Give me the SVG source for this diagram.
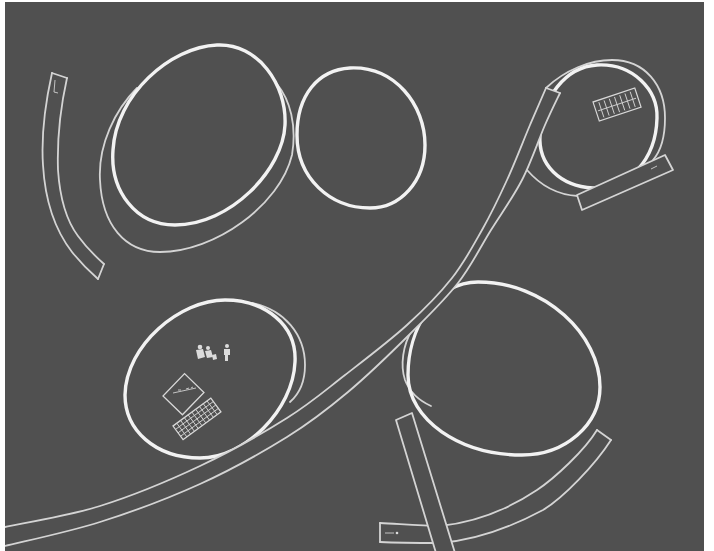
<svg xmlns="http://www.w3.org/2000/svg" width="714" height="551" viewBox="0 0 714 551">
  <defs>
    <style>
      .bold { fill: none; stroke: #f2f2f2; stroke-width: 3.4; stroke-linecap: round; stroke-linejoin: round; }
      .thin { fill: none; stroke: #d4d4d4; stroke-width: 1.8; stroke-linecap: round; stroke-linejoin: round; }
      .fine { fill: none; stroke: #d0d0d0; stroke-width: 0.9; }
      .mask { fill: #505050; stroke: none; }
      .ink  { fill: #dcdcdc; stroke: none; }
    </style>
    <clipPath id="board">
      <rect x="5" y="2" width="699" height="549"/>
    </clipPath>
  </defs>

  <rect width="714" height="551" fill="#ffffff"/>
  <rect x="5" y="2" width="699" height="549" fill="#505050"/>

  <g clip-path="url(#board)">
    <!-- top-left loose strip -->
    <g id="strip-left">
      <path class="thin" d="M52,73 C46,100 41,135 43,165 C45,200 55,230 72,252 C80,262 90,272 98,279"/>
      <path class="thin" d="M67,78 C61,105 57,140 58,170 C60,200 66,220 78,236 C86,247 95,256 104,264"/>
      <path class="thin" d="M52,73 L67,78"/>
      <path class="thin" d="M104,264 L98,279"/>
      <path class="fine" d="M55,80 L54,92 L58,93"/>
    </g>

    <!-- large ring, upper left -->
    <g id="ring-a">
      <path class="thin" d="M137,88 C115,110 98,145 100,180 C102,225 125,252 160,252 C215,252 280,205 292,155 C297,125 290,100 277,84"/>
      <path class="bold" d="M217,45 C258,43 287,85 285,125 C283,170 230,225 175,225 C135,225 110,190 113,150 C116,95 170,47 217,45 Z"/>
    </g>

    <!-- ring, upper middle -->
    <g id="ring-b">
      <path class="bold" d="M350,68 C395,66 425,105 425,145 C425,182 400,208 370,208 C330,208 297,178 297,135 C297,95 318,70 350,68 Z"/>
    </g>

    <!-- ring, lower right (passes under the long band) -->
    <g id="ring-d">
      <path class="thin" d="M412,330 C403,345 400,365 405,380 C410,393 420,401 431,406"/>
      <path class="bold" d="M478,282 C545,282 600,335 600,387 C600,425 565,455 522,455 C460,455 408,420 408,375 C408,330 435,282 478,282 Z"/>
    </g>

    <!-- ring, lower left, with laptop and figures -->
    <g id="ring-c">
      <path class="thin" d="M252,303 C285,310 305,335 305,365 C305,385 298,395 290,402"/>
      <path class="bold" d="M225,300 C265,300 297,325 295,362 C293,410 245,458 200,458 C155,458 125,430 125,395 C126,345 180,300 225,300 Z"/>
      <!-- little figures -->
      <g id="figures">
        <circle class="ink" cx="200" cy="347" r="2.3"/>
        <path class="ink" d="M196,350 L203,349 L205,357 L198,359 Z"/>
        <circle class="ink" cx="208" cy="348" r="2"/>
        <path class="ink" d="M205,351 L211,350 L213,357 L207,358 Z"/>
        <path class="ink" d="M212,355 L216,354 L217,359 L213,360 Z"/>
        <circle class="ink" cx="227" cy="346" r="2"/>
        <path class="ink" d="M224,349 L230,349 L230,355 L228,355 L228,361 L225,361 L225,355 L224,355 Z"/>
      </g>
      <!-- laptop -->
      <g id="laptop">
        <g transform="translate(163,396) rotate(-46)">
          <rect x="0" y="0" width="31" height="27" fill="#505050" stroke="#d8d8d8" stroke-width="1.3"/>
        </g>
        <path class="fine" d="M173,393 L196,388"/>
        <path class="fine" d="M178,390 L181,390 M186,389 L189,388 M191,388 L193,387"/>
        <g transform="translate(173,426) rotate(-36.4)">
          <rect x="0" y="0" width="47" height="17" fill="#505050" stroke="#d8d8d8" stroke-width="1.3"/>
          <path class="fine" d="M4.7,0 V17 M9.4,0 V17 M14.1,0 V17 M18.8,0 V17 M23.5,0 V17 M28.2,0 V17 M32.9,0 V17 M37.6,0 V17 M42.3,0 V17 M0,4.25 H47 M0,8.5 H47 M0,12.75 H47"/>
        </g>
      </g>
    </g>

    <!-- ring, upper right, with the loop of the band and a keyboard -->
    <g id="ring-e">
      <path class="thin" d="M546,88 C565,70 590,60 612,60 C645,60 665,85 665,118 C665,140 660,152 653,160"/>
      <path class="thin" d="M527,170 C540,185 558,195 578,196"/>
      <path class="bold" d="M597,65 C633,63 658,90 657,118 C656,160 628,190 593,188 C560,186 538,165 540,135 C542,98 565,67 597,65 Z"/>
      <g id="keyboard" transform="translate(593,102) rotate(-18.4)">
        <rect x="0" y="0" width="44" height="20" fill="none" stroke="#d8d8d8" stroke-width="1.2"/>
        <path class="fine" d="M5.5,2 V18 M11,2 V18 M16.5,2 V18 M22,2 V18 M27.5,2 V18 M33,2 V18 M38.5,2 V18 M2,10 H42"/>
      </g>
      <g id="band-end">
        <path class="mask" d="M577,195 L665,155 L673,170 L582,210 Z"/>
        <path class="thin" d="M577,195 L665,155 L673,170 L582,210 Z"/>
        <path class="fine" d="M651,169 L657,166"/>
      </g>
    </g>

    <!-- long band from lower left up into the loop -->
    <g id="band">
      <path class="mask" d="M5,527 C20.8,523.5 67.5,516.2 100,506 C132.5,495.8 168.8,480.7 200,466 C231.2,451.3 262.8,433.2 287,418 C311.2,402.8 325,390.5 345,375 C365,359.5 389.2,341.2 407,325 C424.8,308.8 439.5,293.8 452,278 C464.5,262.2 472.8,246.3 482,230 C491.2,213.7 499,197.5 507,180 C515,162.5 523.5,140.3 530,125 C536.5,109.7 543.3,94.2 546,88 L560,93 C557.5,98.3 551.3,110.5 545,125 C538.7,139.5 531,162.5 522,180 C513,197.5 501.7,212.8 491,230 C480.3,247.2 471.5,265.7 458,283 C444.5,300.3 428.3,315.8 410,334 C391.7,352.2 368.5,374.8 348,392 C327.5,409.2 311.7,421.7 287,437 C262.3,452.3 231.2,469.8 200,484 C168.8,498.2 132.5,511.7 100,522 C67.5,532.3 20.8,542 5,546 L0,547 L0,528 Z"/>
      <path class="thin" d="M0,528 L5,527 C20.8,523.5 67.5,516.2 100,506 C132.5,495.8 168.8,480.7 200,466 C231.2,451.3 262.8,433.2 287,418 C311.2,402.8 325,390.5 345,375 C365,359.5 389.2,341.2 407,325 C424.8,308.8 439.5,293.8 452,278 C464.5,262.2 472.8,246.3 482,230 C491.2,213.7 499,197.5 507,180 C515,162.5 523.5,140.3 530,125 C536.5,109.7 543.3,94.2 546,88"/>
      <path class="thin" d="M0,547 L5,546 C20.8,542 67.5,532.3 100,522 C132.5,511.7 168.8,498.2 200,484 C231.2,469.8 262.3,452.3 287,437 C311.7,421.7 327.5,409.2 348,392 C368.5,374.8 391.7,352.2 410,334 C428.3,315.8 444.5,300.3 458,283 C471.5,265.7 480.3,247.2 491,230 C501.7,212.8 513,197.5 522,180 C531,162.5 538.7,139.5 545,125 C551.3,110.5 557.5,98.3 560,93"/>
      <path class="thin" d="M546,88 L560,93"/>
    </g>

    <!-- curved strip, lower right -->
    <g id="strip-curve">
      <path class="thin" d="M380,523 C400,524 420,526 440,526 C480,522 510,508 537,490 C555,478 585,450 597,430"/>
      <path class="thin" d="M380,542 C400,543 420,543 440,543 C480,540 515,525 543,510 C563,498 595,465 611,440"/>
      <path class="thin" d="M597,430 L611,440"/>
      <path class="thin" d="M380,523 L380,542"/>
      <path class="fine" d="M385,533 L394,533"/>
      <circle class="ink" cx="397" cy="533" r="1.3"/>
    </g>

    <!-- straight strip crossing over it -->
    <g id="strip-straight">
      <path class="mask" d="M396,420 L412,413 L455,553 L436,553 Z"/>
      <path class="thin" d="M436,553 L396,420 L412,413 L455,553"/>
    </g>
  </g>
</svg>
